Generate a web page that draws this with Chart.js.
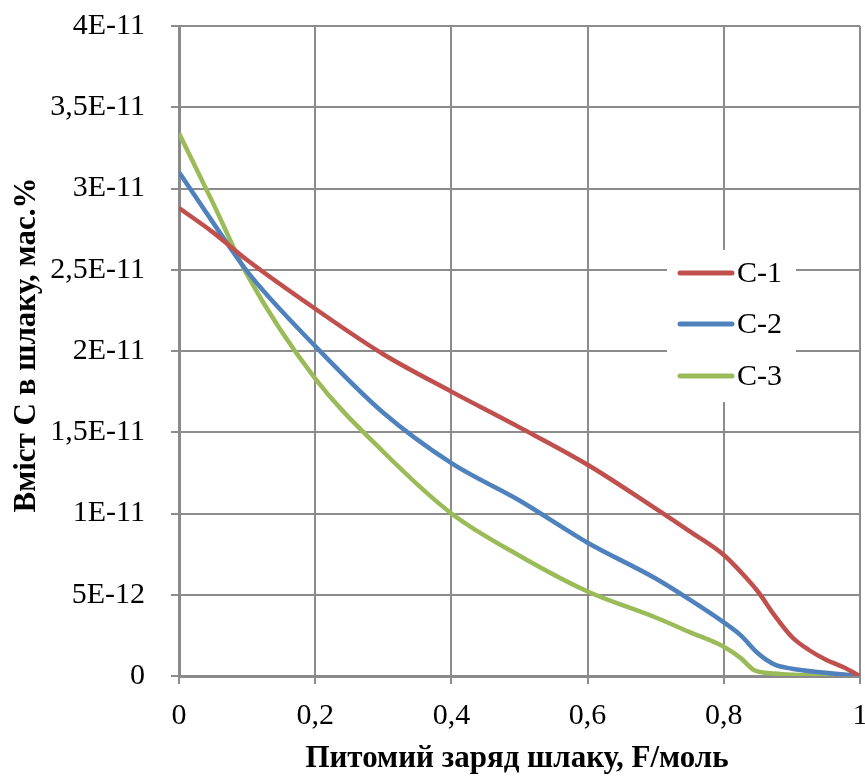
<!DOCTYPE html>
<html>
<head>
<meta charset="utf-8">
<script src="https://cdn.jsdelivr.net/npm/chart.js@4"></script>
<style>
  html, body { margin: 0; padding: 0; background: #fff; }
  #wrap { width: 865px; height: 778px; }
</style>
</head>
<body>
<div id="wrap"><canvas id="myChart" width="865" height="778"></canvas></div>
<script>
// charge of slag, F/mol
var xC1 = [0, 0.05, 0.1, 0.2, 0.3, 0.4, 0.5, 0.6, 0.7, 0.75, 0.8, 0.825, 0.85, 0.875, 0.9, 0.925, 0.95, 0.975, 1];
var yC1 = [2.88e-11, 2.73e-11, 2.56e-11, 2.26e-11, 1.98e-11, 1.75e-11, 1.53e-11, 1.30e-11, 1.03e-11, 0.89e-11, 0.745e-11, 0.64e-11, 0.52e-11, 0.37e-11, 0.24e-11, 0.16e-11, 0.10e-11, 0.055e-11, 0];

var xC2 = [0, 0.05, 0.1, 0.2, 0.3, 0.4, 0.5, 0.6, 0.7, 0.75, 0.8, 0.825, 0.85, 0.875, 0.9, 0.95, 1];
var yC2 = [3.10e-11, 2.79e-11, 2.49e-11, 2.03e-11, 1.62e-11, 1.31e-11, 1.08e-11, 0.82e-11, 0.60e-11, 0.47e-11, 0.33e-11, 0.25e-11, 0.14e-11, 0.07e-11, 0.045e-11, 0.02e-11, 0];

var xC3 = [0, 0.05, 0.1, 0.2, 0.3, 0.4, 0.5, 0.6, 0.7, 0.75, 0.8, 0.825, 0.845, 0.875, 0.9, 1];
var yC3 = [3.34e-11, 2.91e-11, 2.47e-11, 1.83e-11, 1.38e-11, 1.00e-11, 0.74e-11, 0.52e-11, 0.36e-11, 0.27e-11, 0.18e-11, 0.11e-11, 0.035e-11, 0.015e-11, 0.008e-11, 0];

var seriesNames = ['С-1', 'С-2', 'С-3'];
var xTickLabels = ['0', '0,2', '0,4', '0,6', '0,8', '1'];
var yTickLabels = ['0', '5E-12', '1E-11', '1,5E-11', '2E-11', '2,5E-11', '3E-11', '3,5E-11', '4E-11'];
var xTitle = 'Питомий заряд шлаку, F/моль';
var yTitle = 'Вміст С в шлаку, мас.%';

var colors = ['#C0504D', '#4F81BD', '#9BBB59'];
var serif = '"Liberation Serif", "Times New Roman", serif';

function pts(xs, ys) {
    var out = [];
    for (var i = 0; i < xs.length; i++) out.push({ x: xs[i], y: ys[i] });
    return out;
}

function makeSet(i, xs, ys) {
    return {
        label: seriesNames[i],
        data: pts(xs, ys),
        borderColor: colors[i],
        backgroundColor: colors[i],
        borderWidth: 4.5,
        pointRadius: 0,
        cubicInterpolationMode: 'monotone',
        fill: false
    };
}

function noPad(s) {
    s.paddingLeft = 0;
    s.paddingRight = 0;
    s.paddingTop = 0;
    s.paddingBottom = 0;
}

// legend drawn inside the plot, on a white box
var insideLegend = {
    id: 'insideLegend',
    afterDraw: function (chart) {
        var ctx = chart.ctx;
        ctx.save();
        ctx.fillStyle = '#fff';
        ctx.fillRect(667, 250, 129, 152);
        ctx.lineCap = 'round';
        ctx.font = '30px ' + serif;
        ctx.textBaseline = 'middle';
        var ys = [273, 324, 376];
        chart.data.datasets.forEach(function (ds, i) {
            ctx.strokeStyle = ds.borderColor;
            ctx.lineWidth = 5;
            ctx.beginPath();
            ctx.moveTo(680, ys[i]);
            ctx.lineTo(732, ys[i]);
            ctx.stroke();
            ctx.fillStyle = '#000';
            ctx.fillText(ds.label, 737, ys[i] + 1);
        });
        ctx.restore();
    }
};

// axis titles
var axisTitles = {
    id: 'axisTitles',
    afterDraw: function (chart) {
        var ctx = chart.ctx;
        ctx.save();
        ctx.fillStyle = '#000';
        ctx.font = 'bold 31px ' + serif;
        ctx.textAlign = 'center';
        ctx.textBaseline = 'alphabetic';
        ctx.fillText(xTitle, 517, 767);
        ctx.translate(35, 345);
        ctx.rotate(-Math.PI / 2);
        ctx.fillText(yTitle, 0, 0);
        ctx.restore();
    }
};

var ctx = document.getElementById('myChart').getContext('2d');
new Chart(ctx, {
    type: 'line',
    data: {
        datasets: [
            makeSet(0, xC1, yC1),
            makeSet(1, xC2, yC2),
            makeSet(2, xC3, yC3)
        ]
    },
    options: {
        responsive: false,
        animation: false,
        layout: { padding: { top: 26, right: 5, left: 0, bottom: 0 } },
        plugins: {
            legend: { display: false },
            tooltip: { enabled: false }
        },
        scales: {
            x: {
                type: 'linear',
                min: 0,
                max: 1,
                afterFit: function (s) { s.height = 102; noPad(s); },
                afterBuildTicks: function (s) {
                    s.ticks = xTickLabels.map(function (t, i) { return { value: i * 0.2 }; });
                },
                ticks: {
                    font: { family: serif, size: 30 },
                    color: '#000',
                    padding: 14,
                    maxRotation: 0,
                    callback: function (v, i) { return xTickLabels[i]; }
                },
                grid: { color: '#8c8c8c', lineWidth: 2, tickLength: 8 },
                border: { color: '#8a8a8a', width: 3 }
            },
            y: {
                min: 0,
                max: 4e-11,
                afterFit: function (s) { s.width = 179; noPad(s); },
                afterBuildTicks: function (s) {
                    s.ticks = yTickLabels.map(function (t, i) { return { value: i * 5e-12 }; });
                },
                ticks: {
                    font: { family: serif, size: 30 },
                    color: '#000',
                    padding: 26,
                    callback: function (v, i) { return yTickLabels[i]; }
                },
                grid: { color: '#8c8c8c', lineWidth: 2, tickLength: 8 },
                border: { color: '#8a8a8a', width: 3 }
            }
        }
    },
    plugins: [insideLegend, axisTitles]
});
</script>
</body>
</html>
